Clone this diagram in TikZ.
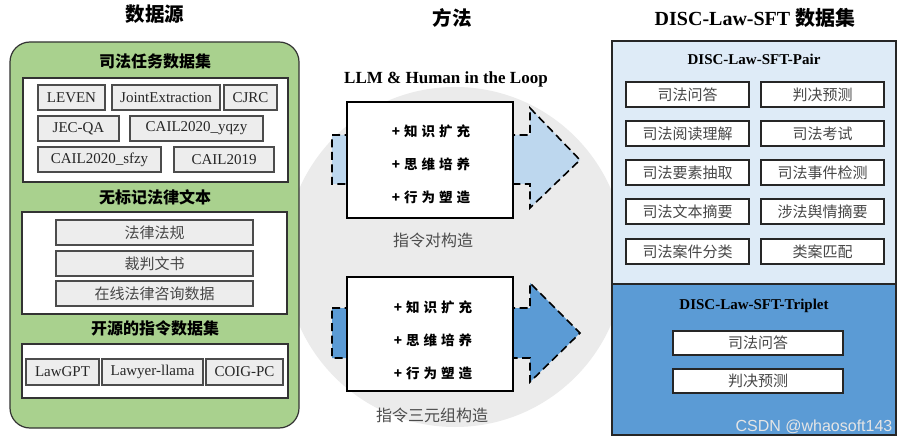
\documentclass[tikz,border=0pt]{standalone}
\usepackage{fontspec}
\setmainfont{Liberation Serif}
\newfontfamily\cjk{Noto Sans CJK SC}
\newfontfamily\wmfont{Liberation Sans}
\definecolor{greenbg}{HTML}{A9D18E}
\definecolor{circ}{HTML}{EBEBEB}
\definecolor{lblue}{HTML}{BDD7EE}
\definecolor{dblue}{HTML}{5B9BD5}
\definecolor{pairbg}{HTML}{DEEBF7}
\definecolor{itemgray}{HTML}{EDEDED}
\newcommand\gp{\hspace{4pt}}
\newcommand\fs[1]{\fontsize{#1}{#1}\selectfont}
\begin{document}
\begin{tikzpicture}[x=1pt,y=-1pt,
  grayitem/.style={draw=black!70,fill=itemgray,line width=1.1pt,inner sep=0pt,minimum height=25pt,text=black!85},
  enitem/.style={grayitem,font=\fs{15}},
  cnitem/.style={grayitem,font=\cjk\fs{15},text=black!72,minimum width=197pt},
  whitebox/.style={draw=black!80,fill=white,line width=1.1pt,inner sep=0pt},
  myhead/.style={font=\cjk\bfseries\fs{16},inner sep=0pt},
  mytitle/.style={font=\cjk\bfseries\fs{19.5},inner sep=0pt},
  pairitem/.style={draw=black!85,fill=white,line width=1.3pt,inner sep=0pt,minimum width=123pt,minimum height=25pt,font=\cjk\fs{15},text=black!72},
  tripitem/.style={pairitem,minimum width=170pt,minimum height=24pt},
  methodbox/.style={draw=black,fill=white,line width=1.3pt,inner sep=0pt,minimum width=166pt},
  methodtext/.style={align=center,inner sep=0pt,font=\cjk\bfseries\fontsize{13.5}{33}\selectfont},
  arrowshape/.style={draw=black,line width=1.6pt,dash pattern=on 8pt off 4.5pt},
  mycap/.style={font=\cjk\fs{16},text=black!70,inner sep=0pt},
  subhead/.style={font=\bfseries\fs{15},inner sep=0pt}
]
\useasboundingbox (0,0) rectangle (909,443);
\fill[white] (0,0) rectangle (909,443);

% background circle
\fill[circ] (455,257) circle[radius=170];

% ---------- titles ----------
\node[mytitle] (t1) at (155,14) {数据源};
\node[mytitle] (t2) at (452,18) {方法};
\node[inner sep=0pt,font=\bfseries\fs{20}] (t3) at (755,18) {DISC-Law-SFT {\cjk 数据集}};

% ---------- left: data sources ----------
\node[draw=black!80,fill=greenbg,line width=1.2pt,rounded corners=20pt,minimum width=289pt,minimum height=386pt,inner sep=0pt] (src) at (154.5,235) {};

\node[myhead] (h1) at (155,61) {司法任务数据集};
\node[whitebox,minimum width=265pt,minimum height=104pt] (w1) at (155.5,130) {};
\node[enitem,minimum width=67pt] (leven) at (71.5,97.5) {LEVEN};
\node[enitem,minimum width=108pt] (joint) at (166,97.5) {JointExtraction};
\node[enitem,minimum width=53pt] (cjrc) at (250.5,97.5) {CJRC};
\node[enitem,minimum width=81pt] (jec) at (78.5,128.5) {JEC-QA};
\node[enitem,minimum width=133pt] (yqzy) at (196.5,128.5) {CAIL2020\_yqzy};
\node[enitem,minimum width=123pt] (sfzy) at (99.5,159.5) {CAIL2020\_sfzy};
\node[enitem,minimum width=100pt] (c2019) at (224,159.5) {CAIL2019};

\node[myhead] (h2) at (155,197) {无标记法律文本};
\node[whitebox,minimum width=265pt,minimum height=102pt] (w2) at (154.5,263) {};
\node[cnitem] (fl) at (154.5,232.5) {法律法规};
\node[cnitem] (cp) at (154.5,263.5) {裁判文书};
\node[cnitem] (zx) at (154.5,293.5) {在线法律咨询数据};

\node[myhead] (h3) at (155,328) {开源的指令数据集};
\node[whitebox,minimum width=266pt,minimum height=54pt] (w3) at (155,371) {};
\node[enitem,minimum width=73pt,minimum height=26pt] (lawgpt) at (62.5,372) {LawGPT};
\node[enitem,minimum width=101pt,minimum height=26pt] (llama) at (152.5,372) {Lawyer-llama};
\node[enitem,minimum width=77pt,minimum height=26pt] (coig) at (244.5,372) {COIG-PC};

% ---------- right: dataset ----------
\fill[pairbg] (612,41) rectangle (896,284);
\fill[dblue] (612,284) rectangle (896,435);
\draw[black!85,line width=1.2pt] (612,41) rectangle (896,435);
\draw[black!85,line width=1.2pt] (612,284) -- (896,284);

\node[subhead] (pairh) at (754,59) {DISC-Law-SFT-Pair};
\node[pairitem] (p1) at (687.5,94.5) {司法问答};
\node[pairitem] (p2) at (822.5,94.5) {判决预测};
\node[pairitem] (p3) at (687.5,133.5) {司法阅读理解};
\node[pairitem] (p4) at (822.5,133.5) {司法考试};
\node[pairitem] (p5) at (687.5,172.5) {司法要素抽取};
\node[pairitem] (p6) at (822.5,172.5) {司法事件检测};
\node[pairitem] (p7) at (687.5,211.5) {司法文本摘要};
\node[pairitem] (p8) at (822.5,211.5) {涉法舆情摘要};
\node[pairitem] (p9) at (687.5,251.5) {司法案件分类};
\node[pairitem] (p10) at (822.5,251.5) {类案匹配};

\node[subhead] (triph) at (754,306) {DISC-Law-SFT-Triplet};
\node[tripitem] (q1) at (758,343) {司法问答};
\node[tripitem] (q2) at (758,381) {判决预测};

\node[inner sep=0pt,font=\wmfont\fs{16},text=white!90!black] (wm) at (814,427) {CSDN @whaosoft143};

% ---------- middle: method ----------
\node[inner sep=0pt,font=\bfseries\fs{17}] (loop) at (446,79) {LLM \& Human in the Loop};

\path[arrowshape,fill=lblue] (332,135) -- (530,135) -- (530,108) -- (580,160) -- (530,208) -- (530,184) -- (332,184) -- cycle;
\path[arrowshape,fill=dblue] (332,308) -- (530,308) -- (530,283) -- (580,333) -- (530,382) -- (530,358) -- (332,358) -- cycle;

\node[methodbox,minimum height=116pt] (m1) at (430,160) {};
\node[methodtext] (m1t) at (431,164) {+\gp 知\gp 识\gp 扩\gp 充\\+\gp 思\gp 维\gp 培\gp 养\\+\gp 行\gp 为\gp 塑\gp 造};
\node[mycap] (c1) at (433,240) {指令对构造};

\node[methodbox,minimum height=114pt] (m2) at (430,334) {};
\node[methodtext] (m2t) at (433,340) {+\gp 知\gp 识\gp 扩\gp 充\\+\gp 思\gp 维\gp 培\gp 养\\+\gp 行\gp 为\gp 塑\gp 造};
\node[mycap] (c2) at (432,415) {指令三元组构造};
\end{tikzpicture}
\end{document}
